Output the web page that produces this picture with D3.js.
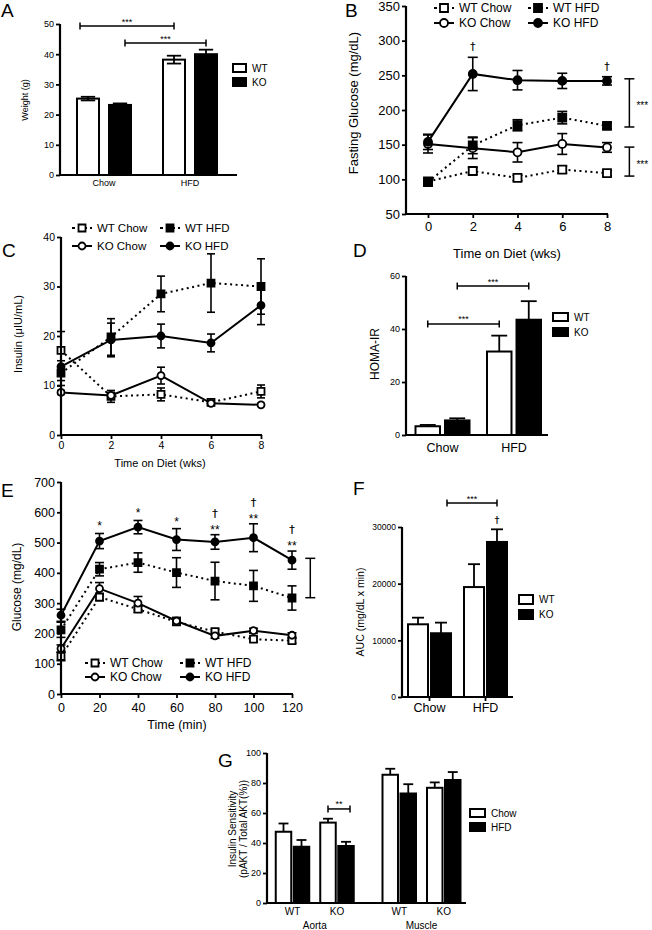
<!DOCTYPE html>
<html><head><meta charset="utf-8">
<script src="https://cdn.jsdelivr.net/npm/d3@7"></script>
<style>body{margin:0;background:#fff}svg{display:block}</style>
</head><body><svg id="c" width="652" height="930"></svg>
<script>
// ================= DATA =================
const dietCats = ["Chow", "HFD"];
const genotypes = ["WT", "KO"];
// A: body weight (g)
const weightWT = [25.3, 38.2];
const weightWTErr = [0.6, 1.3];
const weightKO = [23.2, 40.0];
const weightKOErr = [0.5, 1.5];
const weightTicks = [0, 10, 20, 30, 40, 50];

// B: fasting glucose (mg/dL) over weeks on diet
const weeks = [0, 2, 4, 6, 8];
const glucWTChow = [97, 112, 102, 114, 109];
const glucWTChowErr = [4, 5, 4, 5, 4];
const glucWTHFD = [96, 149, 178, 189, 177];
const glucWTHFDErr = [4, 12, 8, 9, 4];
const glucKOChow = [151, 145, 139, 151, 146];
const glucKOChowErr = [13, 15, 14, 15, 7];
const glucKOHFD = [154, 252, 243, 242, 242];
const glucKOHFDErr = [11, 24, 14, 11, 6];
const glucTicks = [50, 100, 150, 200, 250, 300, 350];
const glucDaggerWeeks = [2, 8];

// C: insulin (uIU/mL)
const insWTChow = [17.1, 7.8, 8.2, 6.6, 8.8];
const insWTChowErr = [3.8, 1.2, 1.3, 0.5, 1.3];
const insWTHFD = [12.5, 19.8, 28.5, 30.7, 30.0];
const insWTHFDErr = [2.5, 3.7, 3.6, 5.9, 5.6];
const insKOChow = [8.6, 8.0, 12.0, 6.4, 6.1];
const insKOChowErr = [0.4, 0.6, 1.7, 0.4, 0.3];
const insKOHFD = [13.8, 19.2, 20.0, 18.6, 26.2];
const insKOHFDErr = [2.8, 3.4, 2.4, 1.8, 3.9];
const insTicks = [0, 10, 20, 30, 40];

// D: HOMA-IR
const homaWT = [3.3, 31.5];
const homaWTErr = [0.5, 6.0];
const homaKO = [5.5, 43.5];
const homaKOErr = [0.8, 7.0];
const homaTicks = [0, 20, 40, 60];

// E: glucose tolerance (mg/dL) over minutes
const minutes = [0, 20, 40, 60, 80, 100, 120];
const gttWTChow = [124, 320, 280, 238, 206, 181, 176];
const gttWTChowErr = [14, 12, 10, 10, 8, 8, 8];
const gttWTHFD = [212, 412, 434, 401, 373, 357, 317];
const gttWTHFDErr = [25, 22, 32, 49, 62, 51, 40];
const gttKOChow = [150, 348, 300, 241, 192, 209, 194];
const gttKOChowErr = [12, 20, 22, 12, 8, 8, 8];
const gttKOHFD = [260, 505, 551, 510, 502, 516, 442];
const gttKOHFDErr = [20, 25, 22, 36, 24, 46, 30];
const gttStars = ["", "*", "*", "*", "**", "**", "**"];
const gttDaggers = ["", "", "", "", "\u2020", "\u2020", "\u2020"];
const gttTicks = [0, 100, 200, 300, 400, 500, 600, 700];

// F: AUC
const aucWT = [12830, 19400];
const aucWTErr = [1170, 4040];
const aucKO = [11250, 27360];
const aucKOErr = [1875, 2230];
const aucTicks = [0, 10000, 20000, 30000];

// G: insulin sensitivity (pAKT / total AKT %)
const tissues = ["Aorta", "Muscle"];
const sensChow = [47.5, 53.6, 85.5, 76.8];   // Aorta WT, Aorta KO, Muscle WT, Muscle KO
const sensChowErr = [5.5, 2.6, 4.0, 3.6];
const sensHFD = [37.5, 38.0, 73.0, 82.0];
const sensHFDErr = [4.5, 2.8, 6.2, 5.3];
const sensTicks = [0, 20, 40, 60, 80, 100];
const groupLabels = ["WT Chow", "WT HFD", "KO Chow", "KO HFD"];

// ================= HELPERS =================
const FONT = "'Liberation Sans', Arial, Helvetica, sans-serif";
const svg = d3.select('#c');
svg.append('rect').attr('width', 652).attr('height', 930).attr('fill', '#fff');

function txt(g, x, y, s, size, anchor = 'middle') {
  return g.append('text').attr('x', x).attr('y', y).attr('text-anchor', anchor)
    .attr('font-family', FONT).attr('font-size', size).attr('fill', '#000').text(s);
}
function dagger(g, x, y, size) {
  return txt(g, x, y, '\u2020', size).attr('font-family', "'DejaVu Sans', sans-serif")
    .attr('opacity', 0.999).attr('stroke', '#000').attr('stroke-width', 0.2);
}
function vtxt(g, cx, cy, s, size) {
  return g.append('text').attr('transform', `translate(${cx},${cy}) rotate(-90)`)
    .attr('text-anchor', 'middle').attr('dy', '0.35em')
    .attr('font-family', FONT).attr('font-size', size).attr('fill', '#000').text(s);
}
function line(g, x1, y1, x2, y2, w = 2) {
  return g.append('line').attr('x1', x1).attr('y1', y1).attr('x2', x2).attr('y2', y2)
    .attr('stroke', '#000').attr('stroke-width', w);
}
function yAxis(g, y, x0, ticks, fs, fmt) {
  const a = g.append('g').attr('transform', `translate(${x0},0)`)
    .call(d3.axisLeft(y).tickValues(ticks).tickSize(4).tickSizeOuter(0).tickPadding(2)
      .tickFormat(fmt || d3.format('d')));
  a.select('.domain').remove();
  a.attr('font-family', FONT);
  a.selectAll('line').attr('stroke', '#000').attr('stroke-width', 1.8);
  a.selectAll('text').attr('font-size', fs).attr('fill', '#000');
  const r = y.range();
  line(g, x0, r[0] + 1, x0, r[1], 2.2);
}
function xAxisLine(g, x0, x1, yb) { line(g, x0 - 1, yb, x1, yb, 2.2); }
function xTicks(g, x, yb, ticks, fs, pad) {
  const a = g.append('g').attr('transform', `translate(0,${yb})`)
    .call(d3.axisBottom(x).tickValues(ticks).tickSize(4).tickSizeOuter(0).tickPadding(pad).tickFormat(d3.format('d')));
  a.select('.domain').remove();
  a.attr('font-family', FONT);
  a.selectAll('line').attr('stroke', '#000').attr('stroke-width', 1.8);
  a.selectAll('text').attr('font-size', fs).attr('fill', '#000');
}
function hBracket(g, x1, x2, yy, label, fs) {
  line(g, x1, yy, x2, yy, 1.5);
  line(g, x1, yy - 3.5, x1, yy + 3.5, 1.5);
  line(g, x2, yy - 3.5, x2, yy + 3.5, 1.5);
  if (label) txt(g, (x1 + x2) / 2, yy - 1.5, label, fs);
}
function vBracket(g, xx, y1, y2, label, fs) {
  line(g, xx, y1, xx, y2, 1.5);
  line(g, xx - 5, y1, xx + 5, y1, 1.5);
  line(g, xx - 5, y2, xx + 5, y2, 1.5);
  if (label) txt(g, xx + 7, (y1 + y2) / 2 + 6, label, fs, 'start');
}
function barGroup(g, outer, inner, y, cats, series, bothErr, capFrac) {
  const bw = inner.bandwidth();
  series.forEach(s => {
    cats.forEach((c, i) => {
      const x0 = outer(c) + inner(s.key);
      const cx = x0 + bw / 2;
      const v = s.vals[i], e = s.errs[i];
      const cw = bw * capFrac / 2;
      const lo = bothErr ? y(v - e) : y(v);
      line(g, cx, y(v + e), cx, lo, 1.8);
      line(g, cx - cw, y(v + e), cx + cw, y(v + e), 1.8);
      if (bothErr) line(g, cx - cw, y(v - e), cx + cw, y(v - e), 1.8);
      g.append('rect').attr('x', x0).attr('y', y(v)).attr('width', bw)
        .attr('height', y.range()[0] - y(v)).attr('fill', s.fill)
        .attr('stroke', '#000').attr('stroke-width', 2);
      if (bothErr && s.fill === '#fff') {
        line(g, cx, y(v), cx, lo, 1.8);
        line(g, cx - cw, lo, cx + cw, lo, 1.8);
      }
    });
  });
}
function barLegend(g, x, y, labels, fills, fs, w, h, gap) {
  labels.forEach((l, i) => {
    g.append('rect').attr('x', x).attr('y', y + i * gap).attr('width', w).attr('height', h)
      .attr('fill', fills[i]).attr('stroke', '#000').attr('stroke-width', 2);
    txt(g, x + w + 6, y + i * gap + h / 2 + fs * 0.36, l, fs, 'start');
  });
}
function marker(g, cx, cy, shape, filled, sz) {
  const sym = d3.symbol().type(shape === 'square' ? d3.symbolSquare : d3.symbolCircle)
    .size(shape === 'square' ? sz * sz : Math.PI * sz * sz / 4);
  g.append('path').attr('d', sym()).attr('transform', `translate(${cx},${cy})`)
    .attr('fill', filled ? '#000' : '#fff').attr('stroke', '#000').attr('stroke-width', 1.8);
}
const DASH = '2,3.5';
function lineChart(g, x, y, xs, series, sz, cap) {
  series.forEach(s => {
    xs.forEach((xv, i) => {
      const cx = x(xv), t = y(s.vals[i] + s.errs[i]), b = y(s.vals[i] - s.errs[i]);
      line(g, cx, t, cx, b, 1.6);
      line(g, cx - cap / 2, t, cx + cap / 2, t, 1.6);
      line(g, cx - cap / 2, b, cx + cap / 2, b, 1.6);
    });
  });
  series.forEach(s => {
    g.append('path').datum(xs.map((xv, i) => [x(xv), y(s.vals[i])]))
      .attr('d', d3.line()).attr('fill', 'none').attr('stroke', '#000').attr('stroke-width', 2)
      .attr('stroke-dasharray', s.dashed ? DASH : null);
  });
  series.forEach(s => {
    xs.forEach((xv, i) => marker(g, x(xv), y(s.vals[i]), s.shape, s.filled, sz));
  });
}
function lineLegend(g, series, cols, rows, fs, sz) {
  series.forEach((s, i) => {
    const cx = cols[i % 2], cy = rows[Math.floor(i / 2)];
    g.append('line').attr('x1', cx - 10).attr('x2', cx + 10).attr('y1', cy).attr('y2', cy)
      .attr('stroke', '#000').attr('stroke-width', 2).attr('stroke-dasharray', s.dashed ? '3,3' : null);
    marker(g, cx, cy, s.shape, s.filled, sz);
    txt(g, cx + 15, cy + fs * 0.36, s.label, fs, 'start');
  });
}
function letter(x, y, s) { txt(svg, x, y, s, 19, 'start'); }

function mkSeries(vals) {
  return [
    { label: groupLabels[0], vals: vals[0], errs: vals[1], shape: 'square', filled: false, dashed: true },
    { label: groupLabels[1], vals: vals[2], errs: vals[3], shape: 'square', filled: true, dashed: true },
    { label: groupLabels[2], vals: vals[4], errs: vals[5], shape: 'circle', filled: false, dashed: false },
    { label: groupLabels[3], vals: vals[6], errs: vals[7], shape: 'circle', filled: true, dashed: false },
  ];
}
function drawOrder(ser) { return [ser[0], ser[2], ser[1], ser[3]]; }

// ================= PANEL A =================
{
  const g = svg.append('g');
  const y = d3.scaleLinear().domain([0, 50]).range([175, 24]);
  const xo = d3.scalePoint().domain(dietCats).range([104, 190]);
  const xi = d3.scaleBand().domain(genotypes).range([-27, 27]).paddingInner(0.3125);
  barGroup(g, xo, xi, y, dietCats, [
    { key: 'WT', vals: weightWT, errs: weightWTErr, fill: '#fff' },
    { key: 'KO', vals: weightKO, errs: weightKOErr, fill: '#000' }], true, 0.65);
  yAxis(g, y, 60, weightTicks, 9);
  xAxisLine(g, 60, 237, 175);
  dietCats.forEach(c => txt(g, xo(c), 186, c, 9));
  vtxt(g, 25, 100, 'Weight (g)', 9);
  const wtC = xo('Chow') + xi('WT') + xi.bandwidth() / 2, wtH = xo('HFD') + xi('WT') + xi.bandwidth() / 2;
  const koC = xo('Chow') + xi('KO') + xi.bandwidth() / 2, koH = xo('HFD') + xi('KO') + xi.bandwidth() / 2;
  hBracket(g, wtC - 8, wtH, y(49.3), '***', 9);
  hBracket(g, koC + 5, koH, y(43.7), '***', 9);
  barLegend(g, 233, 64, genotypes, ['#fff', '#000'], 10, 13, 8, 14);
  letter(1, 17, 'A');
}

// ================= PANEL B =================
{
  const g = svg.append('g');
  const x = d3.scaleLinear().domain([0, 8]).range([428, 607]);
  const y = d3.scaleLinear().domain([50, 350]).range([214, 6]);
  const ser = mkSeries([glucWTChow, glucWTChowErr, glucWTHFD, glucWTHFDErr, glucKOChow, glucKOChowErr, glucKOHFD, glucKOHFDErr]);
  lineChart(g, x, y, weeks, drawOrder(ser), 8, 10);
  yAxis(g, y, 406, glucTicks, 13);
  xAxisLine(g, 406, 608, 214);
  xTicks(g, x, 214, weeks, 13, 4);
  txt(g, 507, 258, 'Time on Diet (wks)', 13);
  vtxt(g, 353, 103, 'Fasting Glucose (mg/dL)', 13);
  glucDaggerWeeks.forEach(w => {
    const i = weeks.indexOf(w);
    dagger(g, x(w), y(glucKOHFD[i] + glucKOHFDErr[i]) - 7, 10);
  });
  vBracket(g, x(9), y(245), y(175.5), '***', 10);
  vBracket(g, x(9), y(146.5), y(104.7), '***', 10);
  lineLegend(g, ser, [444, 538], [8, 23], 12, 8);
  letter(345, 17, 'B');
}

// ================= PANEL C =================
{
  const g = svg.append('g');
  const x = d3.scaleLinear().domain([0, 8]).range([61, 261]);
  const y = d3.scaleLinear().domain([0, 40]).range([435, 237]);
  const ser = mkSeries([insWTChow, insWTChowErr, insWTHFD, insWTHFDErr, insKOChow, insKOChowErr, insKOHFD, insKOHFDErr]);
  lineChart(g, x, y, weeks, drawOrder(ser), 7, 8);
  yAxis(g, y, 61, insTicks, 10.5);
  xAxisLine(g, 61, 262, 435);
  xTicks(g, x, 435, weeks, 10.5, 3);
  txt(g, 160, 467, 'Time on Diet (wks)', 11);
  vtxt(g, 18, 334, 'Insulin (\u03bcIU/mL)', 11);
  lineLegend(g, ser, [82, 170], [228, 246], 11.5, 7);
  letter(2, 257, 'C');
}

// ================= PANEL D =================
{
  const g = svg.append('g');
  const y = d3.scaleLinear().domain([0, 60]).range([435, 276]);
  const xo = d3.scalePoint().domain(dietCats).range([442.5, 514]);
  const xi = d3.scaleBand().domain(genotypes).range([-27, 27]).paddingInner(0.17);
  barGroup(g, xo, xi, y, dietCats, [
    { key: 'WT', vals: homaWT, errs: homaWTErr, fill: '#fff' },
    { key: 'KO', vals: homaKO, errs: homaKOErr, fill: '#000' }], false, 0.65);
  yAxis(g, y, 406, homaTicks, 9);
  xAxisLine(g, 406, 548, 435);
  dietCats.forEach(c => txt(g, xo(c), 452, c, 12.5));
  vtxt(g, 375, 354, 'HOMA-IR', 12);
  const c = (cat, gt) => xo(cat) + xi(gt) + xi.bandwidth() / 2;
  hBracket(g, c('Chow', 'WT'), c('HFD', 'WT'), y(41.9), '***', 9);
  hBracket(g, c('Chow', 'KO'), c('HFD', 'KO'), y(56.2), '***', 9);
  barLegend(g, 553, 313, genotypes, ['#fff', '#000'], 10, 15, 8, 15);
  letter(353, 257, 'D');
}

// ================= PANEL E =================
{
  const g = svg.append('g');
  const x = d3.scaleLinear().domain([0, 120]).range([61, 292]);
  const y = d3.scaleLinear().domain([0, 700]).range([694, 482]);
  const ser = mkSeries([gttWTChow, gttWTChowErr, gttWTHFD, gttWTHFDErr, gttKOChow, gttKOChowErr, gttKOHFD, gttKOHFDErr]);
  lineChart(g, x, y, minutes, drawOrder(ser), 7, 9);
  yAxis(g, y, 61, gttTicks, 12.5);
  xAxisLine(g, 61, 293, 694);
  xTicks(g, x, 694, minutes, 12.5, 5);
  txt(g, 177, 729, 'Time (min)', 12.5);
  vtxt(g, 17, 587, 'Glucose (mg/dL)', 12);
  minutes.forEach((m, i) => {
    const top = y(gttKOHFD[i] + gttKOHFDErr[i]);
    if (gttStars[i]) txt(g, x(m), top + (gttStars[i].length > 1 ? -1 : -3), gttStars[i], 12);
    if (gttDaggers[i]) dagger(g, x(m), top - 18, 11);
  });
  vBracket(g, x(129.5), y(448), y(318), '', 10);
  lineLegend(g, ser, [95, 190], [663, 677], 12, 7);
  letter(1, 497, 'E');
}

// ================= PANEL F =================
{
  const g = svg.append('g');
  const y = d3.scaleLinear().domain([0, 30000]).range([697, 527]);
  const xo = d3.scalePoint().domain(dietCats).range([429.5, 485.5]);
  const xi = d3.scaleBand().domain(genotypes).range([-21.5, 21.5]).paddingInner(0.13);
  barGroup(g, xo, xi, y, dietCats, [
    { key: 'WT', vals: aucWT, errs: aucWTErr, fill: '#fff' },
    { key: 'KO', vals: aucKO, errs: aucKOErr, fill: '#000' }], false, 0.6);
  yAxis(g, y, 402, aucTicks, 8.5);
  xAxisLine(g, 402, 513, 697);
  dietCats.forEach(c => { line(g, xo(c), 697, xo(c), 701, 1.8); txt(g, xo(c), 712, c, 12.5); });
  vtxt(g, 360, 612, 'AUC (mg/dL x min)', 10.5);
  const c = (cat, gt) => xo(cat) + xi(gt) + xi.bandwidth() / 2;
  hBracket(g, c('Chow', 'KO') + 6, c('HFD', 'KO'), y(34235), '***', 9);
  dagger(g, c('HFD', 'KO'), y(aucKO[1] + aucKOErr[1]) - 6, 9);
  barLegend(g, 519, 595, genotypes, ['#fff', '#000'], 10, 14, 9, 15);
  letter(353, 495, 'F');
}

// ================= PANEL G =================
{
  const g = svg.append('g');
  const y = d3.scaleLinear().domain([0, 100]).range([903, 753]);
  const xt = d3.scalePoint().domain(tissues).range([314.75, 421.5]);
  const xg = d3.scalePoint().domain(genotypes).range([-22.25, 22.25]);
  const xd = d3.scaleBand().domain(dietCats).range([-16.75, 16.75]).paddingInner(0.14);
  const bw = xd.bandwidth();
  const slots = [];
  tissues.forEach(t => genotypes.forEach(gt => slots.push({ t, gt })));
  [{ key: 'Chow', vals: sensChow, errs: sensChowErr, fill: '#fff' },
   { key: 'HFD', vals: sensHFD, errs: sensHFDErr, fill: '#000' }].forEach(s => {
    slots.forEach((sl, i) => {
      const x0 = xt(sl.t) + xg(sl.gt) + xd(s.key), cx = x0 + bw / 2, v = s.vals[i], e = s.errs[i];
      line(g, cx, y(v + e), cx, y(v), 1.8);
      line(g, cx - bw * 0.32, y(v + e), cx + bw * 0.32, y(v + e), 1.8);
      g.append('rect').attr('x', x0).attr('y', y(v)).attr('width', bw).attr('height', y(0) - y(v))
        .attr('fill', s.fill).attr('stroke', '#000').attr('stroke-width', 2);
    });
  });
  yAxis(g, y, 267, sensTicks, 9);
  xAxisLine(g, 267, 466, 903);
  slots.forEach(sl => txt(g, xt(sl.t) + xg(sl.gt), 914.5, sl.gt, 10));
  tissues.forEach(t => txt(g, xt(t), 928.5, t, 10));
  vtxt(g, 232, 829, 'Insulin Sensitivity', 10);
  vtxt(g, 243, 829, '(pAKT / Total AKT(%))', 10);
  const kc = xt('Aorta') + xg('KO') + xd('Chow') + bw / 2, kh = xt('Aorta') + xg('KO') + xd('HFD') + bw / 2;
  hBracket(g, kc, kh + 4, y(62.7), '**', 9);
  barLegend(g, 470, 809, dietCats, ['#fff', '#000'], 10, 15, 8, 14);
  letter(218, 767, 'G');
}
</script></body></html>
